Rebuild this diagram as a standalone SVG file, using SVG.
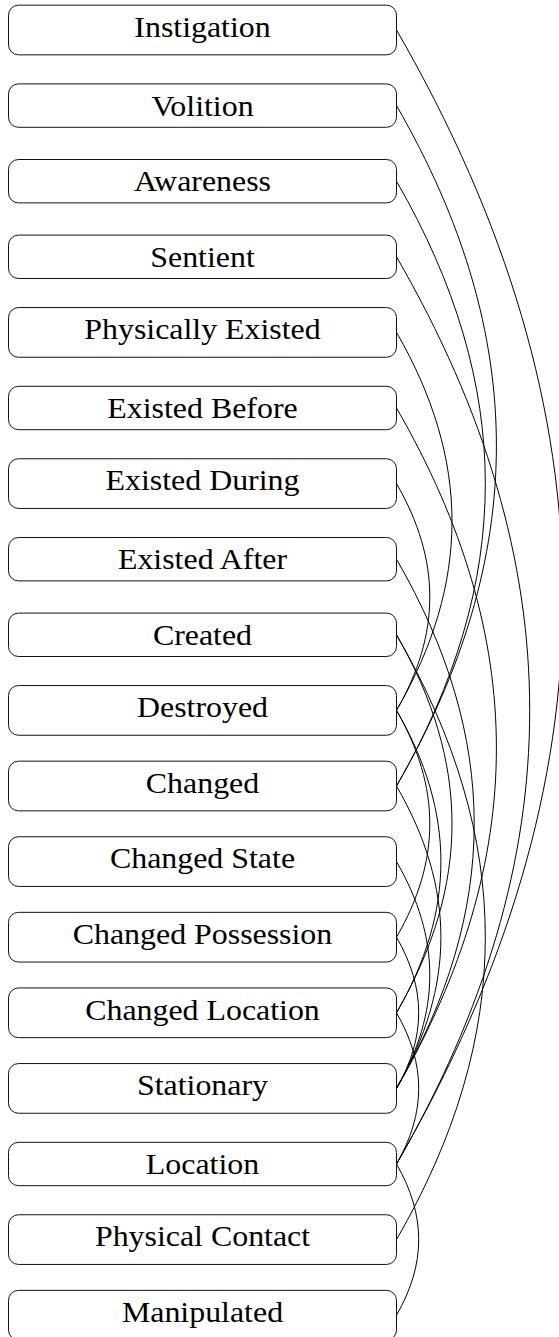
<svg xmlns="http://www.w3.org/2000/svg" width="559" height="1337" viewBox="0 0 559 1337">
<style>
.box{fill:#fff;stroke:#111;stroke-width:1}
.lbl{font-family:"Liberation Serif","Times New Roman",serif;font-size:29px;text-anchor:middle;fill:#000}
.edge{fill:none;stroke:#000;stroke-width:1}
</style>
<rect width="559" height="1337" fill="#fff"/>
<g id="connectors">
<path class="edge" d="M396.5,30 C618.5,414.4 618.5,779.6 396.5,1164"/>
<path class="edge" d="M396.5,105.6 C529.7,336.3 529.7,555.3 396.5,786"/>
<path class="edge" d="M396.5,181.2 C514.9,386.3 514.9,580.9 396.5,786"/>
<path class="edge" d="M396.5,256.8 C574.1,564.4 574.1,856.4 396.5,1164"/>
<path class="edge" d="M396.5,332.4 C470.5,460.6 470.5,582.2 396.5,710.4"/>
<path class="edge" d="M396.5,408 C529.7,638.7 529.7,857.7 396.5,1088.4"/>
<path class="edge" d="M396.5,483.6 C440.9,560.5 440.9,633.5 396.5,710.4"/>
<path class="edge" d="M396.5,559.2 C500.1,738.6 500.1,909 396.5,1088.4"/>
<path class="edge" d="M396.5,634.8 C470.5,763 470.5,884.6 396.5,1012.8"/>
<path class="edge" d="M396.5,634.8 C514.9,839.9 514.9,1034.5 396.5,1239.6"/>
<path class="edge" d="M396.5,710.4 C440.9,787.3 440.9,860.3 396.5,937.2"/>
<path class="edge" d="M396.5,710.4 C455.7,812.9 455.7,910.3 396.5,1012.8"/>
<path class="edge" d="M396.5,786 C455.7,888.5 455.7,985.9 396.5,1088.4"/>
<path class="edge" d="M396.5,861.6 C440.9,938.5 440.9,1011.5 396.5,1088.4"/>
<path class="edge" d="M396.5,937.2 C426.1,988.5 426.1,1037.1 396.5,1088.4"/>
<path class="edge" d="M396.5,1012.8 C426.1,1064.1 426.1,1112.7 396.5,1164"/>
<path class="edge" d="M396.5,1164 C426.1,1215.3 426.1,1263.9 396.5,1315.2"/>
</g>
<g id="n-instigation"><rect class="box" x="8.5" y="5.15" width="388" height="49.7" rx="10"/><text class="lbl" transform="translate(202.5,36.75) scale(1.1,1)">Instigation</text></g>
<g id="n-volition"><rect class="box" x="8.5" y="83.9" width="388" height="43.4" rx="10"/><text class="lbl" transform="translate(202.5,115.5) scale(1.1,1)">Volition</text></g>
<g id="n-awareness"><rect class="box" x="8.5" y="159.5" width="388" height="43.4" rx="10"/><text class="lbl" transform="translate(202.5,191.1) scale(1.1,1)">Awareness</text></g>
<g id="n-sentient"><rect class="box" x="8.5" y="235.1" width="388" height="43.4" rx="10"/><text class="lbl" transform="translate(202.5,266.7) scale(1.1,1)">Sentient</text></g>
<g id="n-physically-existed"><rect class="box" x="8.5" y="307.55" width="388" height="49.7" rx="10"/><text class="lbl" transform="translate(202.5,339.15) scale(1.1,1)">Physically Existed</text></g>
<g id="n-existed-before"><rect class="box" x="8.5" y="386.3" width="388" height="43.4" rx="10"/><text class="lbl" transform="translate(202.5,417.9) scale(1.1,1)">Existed Before</text></g>
<g id="n-existed-during"><rect class="box" x="8.5" y="458.75" width="388" height="49.7" rx="10"/><text class="lbl" transform="translate(202.5,490.35) scale(1.1,1)">Existed During</text></g>
<g id="n-existed-after"><rect class="box" x="8.5" y="537.5" width="388" height="43.4" rx="10"/><text class="lbl" transform="translate(202.5,569.1) scale(1.1,1)">Existed After</text></g>
<g id="n-created"><rect class="box" x="8.5" y="613.1" width="388" height="43.4" rx="10"/><text class="lbl" transform="translate(202.5,644.7) scale(1.1,1)">Created</text></g>
<g id="n-destroyed"><rect class="box" x="8.5" y="685.55" width="388" height="49.7" rx="10"/><text class="lbl" transform="translate(202.5,717.15) scale(1.1,1)">Destroyed</text></g>
<g id="n-changed"><rect class="box" x="8.5" y="761.15" width="388" height="49.7" rx="10"/><text class="lbl" transform="translate(202.5,792.75) scale(1.1,1)">Changed</text></g>
<g id="n-changed-state"><rect class="box" x="8.5" y="836.75" width="388" height="49.7" rx="10"/><text class="lbl" transform="translate(202.5,868.35) scale(1.1,1)">Changed State</text></g>
<g id="n-changed-possession"><rect class="box" x="8.5" y="912.35" width="388" height="49.7" rx="10"/><text class="lbl" transform="translate(202.5,943.95) scale(1.1,1)">Changed Possession</text></g>
<g id="n-changed-location"><rect class="box" x="8.5" y="987.95" width="388" height="49.7" rx="10"/><text class="lbl" transform="translate(202.5,1019.55) scale(1.1,1)">Changed Location</text></g>
<g id="n-stationary"><rect class="box" x="8.5" y="1063.55" width="388" height="49.7" rx="10"/><text class="lbl" transform="translate(202.5,1095.15) scale(1.1,1)">Stationary</text></g>
<g id="n-location"><rect class="box" x="8.5" y="1142.3" width="388" height="43.4" rx="10"/><text class="lbl" transform="translate(202.5,1173.9) scale(1.1,1)">Location</text></g>
<g id="n-physical-contact"><rect class="box" x="8.5" y="1214.75" width="388" height="49.7" rx="10"/><text class="lbl" transform="translate(202.5,1246.35) scale(1.1,1)">Physical Contact</text></g>
<g id="n-manipulated"><rect class="box" x="8.5" y="1290.35" width="388" height="49.7" rx="10"/><text class="lbl" transform="translate(202.5,1321.95) scale(1.1,1)">Manipulated</text></g>
</svg>
